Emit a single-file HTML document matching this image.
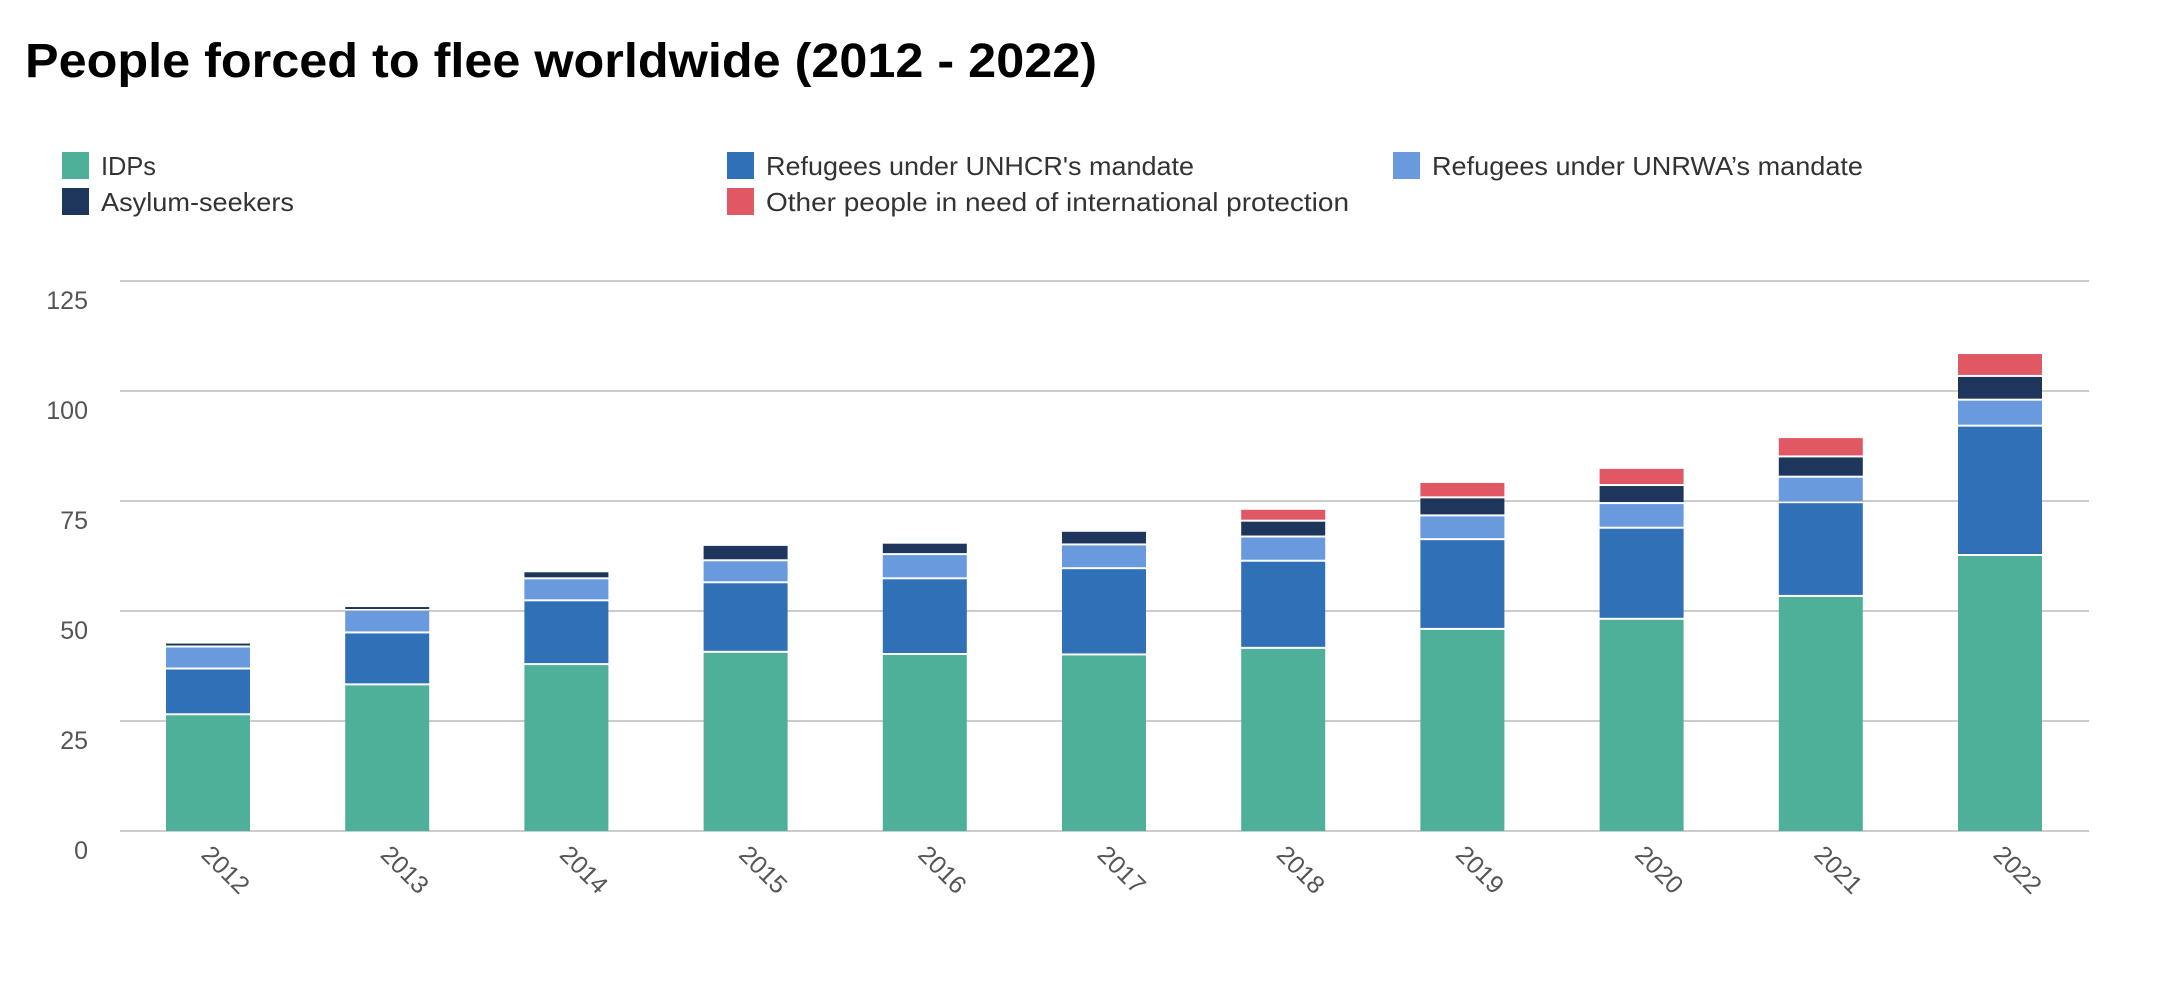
<!DOCTYPE html>
<html><head><meta charset="utf-8">
<style>
html,body{margin:0;padding:0;background:#fff;}
svg{display:block;font-family:"Liberation Sans",sans-serif;}
</style></head>
<body>
<svg id="chart" width="2162" height="986" viewBox="0 0 2162 986" xmlns="http://www.w3.org/2000/svg">
<text x="25" y="77" font-size="48" font-weight="bold" fill="#000" textLength="1072" lengthAdjust="spacingAndGlyphs">People forced to flee worldwide (2012 - 2022)</text>
<g id="legend"></g>
<g id="grid"></g>
<g id="bars"></g>
<g id="xaxis"></g>
</svg>
<script>
const categories = ["2012","2013","2014","2015","2016","2017","2018","2019","2020","2021","2022"];
const idps      = [26.3, 33.1, 37.7, 40.5, 40.0, 39.9, 41.4, 45.7, 48.0, 53.2, 62.5];
const unhcr     = [10.4, 11.8, 14.5, 15.8, 17.2, 19.6, 19.8, 20.4, 20.7, 21.3, 29.4];
const unrwa     = [5.0, 5.1, 5.0, 5.0, 5.5, 5.4, 5.5, 5.4, 5.6, 5.8, 5.9];
const asylum    = [0.9, 0.9, 1.6, 3.5, 2.6, 3.1, 3.6, 4.1, 4.1, 4.6, 5.4];
const other     = [0, 0, 0, 0, 0, 0, 2.7, 3.5, 3.9, 4.4, 5.2];
const yTicks    = [0, 25, 50, 75, 100, 125];
const seriesNames = ["IDPs","Refugees under UNHCR's mandate","Refugees under UNRWA’s mandate","Asylum-seekers","Other people in need of international protection"];

const NS = "http://www.w3.org/2000/svg";
const colors = ["#4fb09a","#3070b6","#699ade","#1f365c","#df5864"];
const series = [idps, unhcr, unrwa, asylum, other];
const keys = ["idps","unhcr","unrwa","asylum-seekers","other"];
const y0 = 831, pxPerUnit = 4.4;
const yScale = v => y0 - v * pxPerUnit;
const xScale = i => 208 + 179.2 * i;
const barW = 84;

function mk(tag, attrs, parent){
  const el = document.createElementNS(NS, tag);
  for (const k in attrs) el.setAttribute(k, attrs[k]);
  parent.appendChild(el);
  return el;
}

const grid = document.getElementById("grid");
yTicks.forEach(t => {
  const y = yScale(t);
  const ln = mk("line", {x1:120, x2:2089, y1:y, y2:y, stroke:"#cccccc", "stroke-width":2}, grid);
  
  
  const tx = mk("text", {x:88, y:y+28, "text-anchor":"end", "font-size":25, fill:"#555"}, grid);
  tx.textContent = t;
  
  
});

const bars = document.getElementById("bars");
categories.forEach((c, i) => {
  let base = 0;
  const cx = xScale(i);
  series.forEach((s, k) => {
    const v = s[i];
    if (v <= 0) return;
    const top = yScale(base + v), bottom = yScale(base);
    const gap = base > 0 ? 2 : 0;
    const r = mk("rect", {x:cx - barW/2, y:top, width:barW, height:Math.max(0, bottom - top - gap), fill:colors[k]}, bars);
    
    
    base += v;
  });
});

const xaxis = document.getElementById("xaxis");
categories.forEach((c, i) => {
  const x = xScale(i) - 8, y = 856;
  const t = mk("text", {x:x, y:y, "font-size":25, fill:"#555", transform:`rotate(45 ${x} ${y})`}, xaxis);
  t.textContent = c;
  
  
});

const legend = document.getElementById("legend");
const legPos = [[62,152,55],[727,152,428],[1393,152,431],[62,188,193],[727,188,583]];
seriesNames.forEach((n, k) => {
  const [x, y, w] = legPos[k];
  const g = mk("g", {}, legend);
  
  
  const sw = mk("rect", {x:x, y:y, width:27, height:27, fill:colors[k]}, g);
  
  
  const t = mk("text", {x:x+39, y:y+23, "font-size":26, fill:"#333", textLength:w, lengthAdjust:"spacingAndGlyphs"}, g);
  t.textContent = n;
  
  
});
</script>
</body></html>
